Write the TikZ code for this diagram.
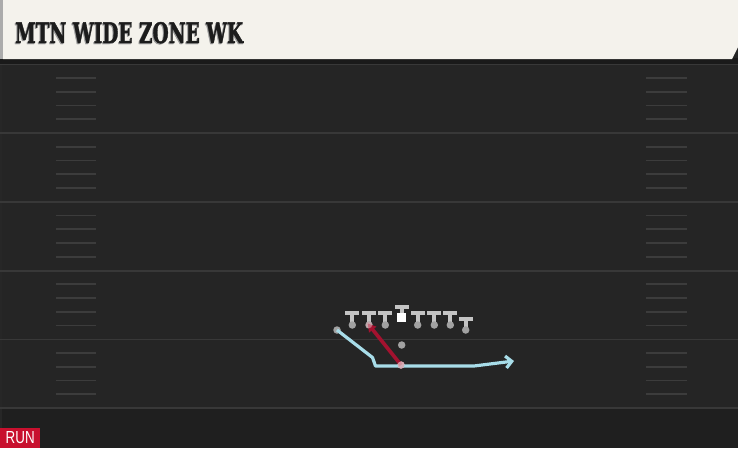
\documentclass[tikz,border=0pt]{standalone}
\usepackage{fontspec}
\usepackage{graphicx}
\usetikzlibrary{arrows.meta}
\newfontfamily\titlefont[FakeBold=1.6]{DejaVu Serif Bold}
\newfontfamily\tagfont{Liberation Sans}
\definecolor{fieldbg}{HTML}{252525}
\definecolor{bottombg}{HTML}{1F1F1F}
\definecolor{bandbg}{HTML}{1A1A1A}
\definecolor{cream}{HTML}{F4F2EC}
\definecolor{edgegrey}{HTML}{ABABAB}
\definecolor{linegrey}{HTML}{383838}
\definecolor{hashgrey}{HTML}{3C3C3C}
\definecolor{titleink}{HTML}{1C1C1C}
\definecolor{titleshade}{HTML}{9A9A9A}
\definecolor{runred}{HTML}{C8102E}
\definecolor{tcol}{HTML}{C4C4C4}
\definecolor{pcol}{HTML}{A2A2A2}
\definecolor{qbcol}{HTML}{D9A9B1}
\definecolor{routeblue}{HTML}{A8DDE9}
\definecolor{routered}{HTML}{A3122F}
\tikzset{
  player/.style={circle, fill=pcol, minimum size=7.5pt, inner sep=0pt},
  centerbox/.style={rectangle, fill=white, minimum size=9pt, inner sep=0pt},
  blockT/.pic={
    \fill[tcol] (-7,0) rectangle (7,4);
    \fill[tcol] (-2,4) rectangle (2,11);
  },
  yardline/.style={draw=linegrey, line width=1.6pt},
  hashmark/.style={draw=hashgrey, line width=1.6pt},
  blueroute/.style={draw=routeblue, line width=3.2pt, line join=round, -{Straight Barb[length=6pt,width=12pt]}},
  redroute/.style={draw=routered, line width=3.6pt, -{Triangle[length=8pt,width=9pt]}}
}
\begin{document}
\begin{tikzpicture}[x=1pt,y=-1pt]
\useasboundingbox (0,0) rectangle (738,448);
% backgrounds
\fill[fieldbg] (0,0) rectangle (738,448);
\fill[bottombg] (0,409) rectangle (738,448);
\fill[bandbg] (0,58) rectangle (738,64);
\fill[linegrey!70!black] (0,64) rectangle (2,448);
% header
\fill[edgegrey] (0,0) rectangle (3,59);
\fill[cream] (3,0) -- (738,0) -- (738,47) -- (732,59) -- (3,59) -- cycle;
\node[anchor=base west, inner sep=0pt, text=titleshade] (titleshadow) at (14,44)
  {\resizebox{228pt}{21pt}{\titlefont MTN WIDE ZONE WK}};
\node[anchor=base west, inner sep=0pt, text=titleink] (title) at (15,43)
  {\resizebox{228pt}{21pt}{\titlefont MTN WIDE ZONE WK}};
% yard lines
\foreach \k in {0,...,5} {
  \draw[yardline] (0,{64.5+68.75*\k}) -- (738,{64.5+68.75*\k});
}
% hash marks
\foreach \i in {1,...,24} {
  \pgfmathtruncatemacro{\r}{mod(\i,5)}
  \ifnum\r=0\relax\else
    \draw[hashmark] (56,{64.25+13.75*\i}) -- (96,{64.25+13.75*\i});
    \draw[hashmark] (646,{64.25+13.75*\i}) -- (687,{64.25+13.75*\i});
  \fi
}
% offensive line with blocking marks
\pic at (352.3,311) {blockT};
\node[player] (p1) at (352.3,325) {};
\pic at (369,311) {blockT};
\node[player] (p2) at (369,325) {};
\pic at (385.3,311) {blockT};
\node[player] (p3) at (385.3,325) {};
\fill[tcol] (394.7,304.7) rectangle (408.7,308.7);
\fill[tcol] (399.7,308.7) rectangle (403.7,314);
\node[centerbox] (ctr) at (401.7,317.8) {};
\pic at (417.7,311) {blockT};
\node[player] (p5) at (417.7,325) {};
\pic at (434.3,311) {blockT};
\node[player] (p6) at (434.3,325) {};
\pic at (450.3,311) {blockT};
\node[player] (p7) at (450.3,325) {};
\pic at (465.7,316.5) {blockT};
\node[player] (p8) at (465.7,330) {};
% backs
\node[player] (wr) at (337,330) {};
\node[player] (rb) at (401.7,345) {};
\node[player, fill=qbcol] (qb) at (401,365) {};
% routes
\coordinate (b1) at (372.5,357.5);
\coordinate (b2) at (375.5,366);
\coordinate (b3) at (474,366);
\coordinate (b4) at (514,361);
\draw[blueroute] (wr.center) -- (b1) -- (b2) -- (b3) -- (b4);
\draw[redroute, shorten >=-2pt] (qb.center) -- (p2.center);
\fill[qbcol, opacity=0.85] (qb.center) circle (3.5);
\fill[qbcol, opacity=0.6] (p2.center) circle (3.2);
% run tag
\node[fill=runred, minimum width=40pt, minimum height=20pt, inner sep=0pt, anchor=south west, text=white] (run) at (0,448)
  {\resizebox{29pt}{12pt}{\tagfont RUN}};
\end{tikzpicture}
\end{document}
